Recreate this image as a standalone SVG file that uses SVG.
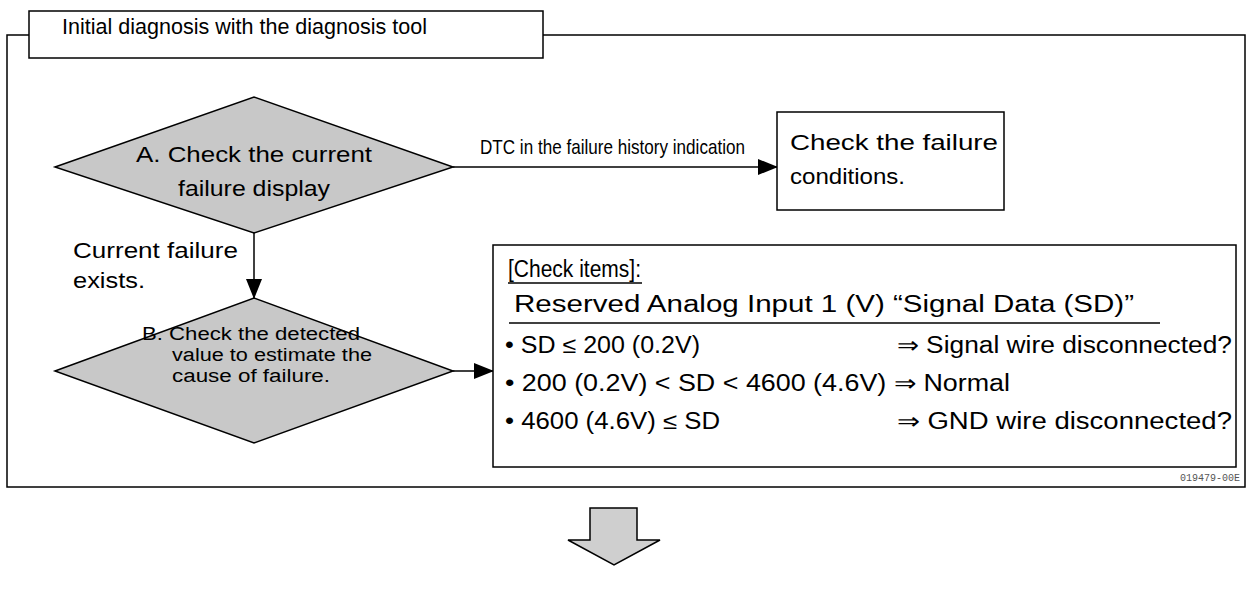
<svg xmlns="http://www.w3.org/2000/svg" width="1251" height="595" viewBox="0 0 1251 595">
<style>
text{font-family:"Liberation Sans",Arial,sans-serif;fill:#000}
.t{font-size:22px}
.s{font-size:21px}
.b{font-size:18px}
.n{font-size:23px}
.box{fill:#fff;stroke:#000;stroke-width:1.5}
.dia{fill:#c8c8c8;stroke:#000;stroke-width:1.5}
.ln{stroke:#000;stroke-width:1.5;fill:none}
.code{font-family:"Liberation Mono",monospace;font-size:10px;fill:#555}
</style>
<defs>
<marker id="ah" markerWidth="20" markerHeight="16" refX="19" refY="8" orient="auto" markerUnits="userSpaceOnUse">
<path d="M0,0 L20,8 L0,16 Z" fill="#000"/>
</marker>
</defs>
<g id="frame">
<rect x="7" y="35" width="1238" height="452" class="box"/>
</g>
<g id="title">
<rect x="29" y="11" width="514" height="47" class="box"/>
<text x="62" y="34" class="t" textLength="365" lengthAdjust="spacingAndGlyphs">Initial diagnosis with the diagnosis tool</text>
</g>
<g id="connectors">
<line x1="453" y1="167" x2="777" y2="167" class="ln" marker-end="url(#ah)"/>
<line x1="254" y1="233" x2="254" y2="298" class="ln" marker-end="url(#ah)"/>
<line x1="453" y1="371" x2="493" y2="371" class="ln" marker-end="url(#ah)"/>
<text x="480" y="154" class="s" textLength="265" lengthAdjust="spacingAndGlyphs">DTC in the failure history indication</text>
<text x="73" y="258" class="t" textLength="165" lengthAdjust="spacingAndGlyphs">Current failure</text>
<text x="73" y="288" class="t" textLength="72" lengthAdjust="spacingAndGlyphs">exists.</text>
</g>
<g id="nodeA">
<polygon points="55,167 254,97 453,167 254,233" class="dia"/>
<text x="254" y="162" class="t" text-anchor="middle" textLength="236" lengthAdjust="spacingAndGlyphs">A. Check the current</text>
<text x="254" y="196" class="t" text-anchor="middle" textLength="152" lengthAdjust="spacingAndGlyphs">failure display</text>
</g>
<g id="nodeCond">
<rect x="777" y="112" width="227" height="98" class="box"/>
<text x="790" y="150" class="t" textLength="208" lengthAdjust="spacingAndGlyphs">Check the failure</text>
<text x="790" y="184" class="t" textLength="115" lengthAdjust="spacingAndGlyphs">conditions.</text>
</g>
<g id="nodeB">
<polygon points="55,371 254,298 453,371 254,443" class="dia"/>
<text x="142" y="340" class="b" textLength="218" lengthAdjust="spacingAndGlyphs">B. Check the detected</text>
<text x="172" y="361" class="b" textLength="200" lengthAdjust="spacingAndGlyphs">value to estimate the</text>
<text x="172" y="382" class="b" textLength="158" lengthAdjust="spacingAndGlyphs">cause of failure.</text>
</g>
<g id="nodeItems">
<rect x="493" y="245" width="743" height="222" class="box"/>
<text x="508" y="277" class="n" textLength="133" lengthAdjust="spacingAndGlyphs">[Check items]:</text>
<line x1="508" y1="283" x2="642" y2="283" class="ln" stroke-width="1"/>
<text x="514" y="312" class="n" textLength="620" lengthAdjust="spacingAndGlyphs">Reserved Analog Input 1 (V)  “Signal Data (SD)”</text>
<line x1="509" y1="323" x2="1160" y2="323" class="ln"/>
<text x="505" y="353" class="n" textLength="195" lengthAdjust="spacingAndGlyphs">• SD ≤ 200 (0.2V)</text>
<text x="897" y="353" class="n" textLength="335" lengthAdjust="spacingAndGlyphs">⇒ Signal wire disconnected?</text>
<text x="505" y="391" class="n" textLength="505" lengthAdjust="spacingAndGlyphs">• 200 (0.2V) &lt; SD &lt; 4600 (4.6V) ⇒ Normal</text>
<text x="505" y="429" class="n" textLength="215" lengthAdjust="spacingAndGlyphs">• 4600 (4.6V) ≤ SD</text>
<text x="897" y="429" class="n" textLength="335" lengthAdjust="spacingAndGlyphs">⇒ GND wire disconnected?</text>
<text x="1180" y="481" class="code" textLength="60" lengthAdjust="spacingAndGlyphs">019479-00E</text>
</g>
<g id="bigArrow">
<polygon points="590,508 637,508 637,540 660,540 614,565 568,540 590,540" fill="#cfcfcf" stroke="#000" stroke-width="1.5"/>
</g>
</svg>
